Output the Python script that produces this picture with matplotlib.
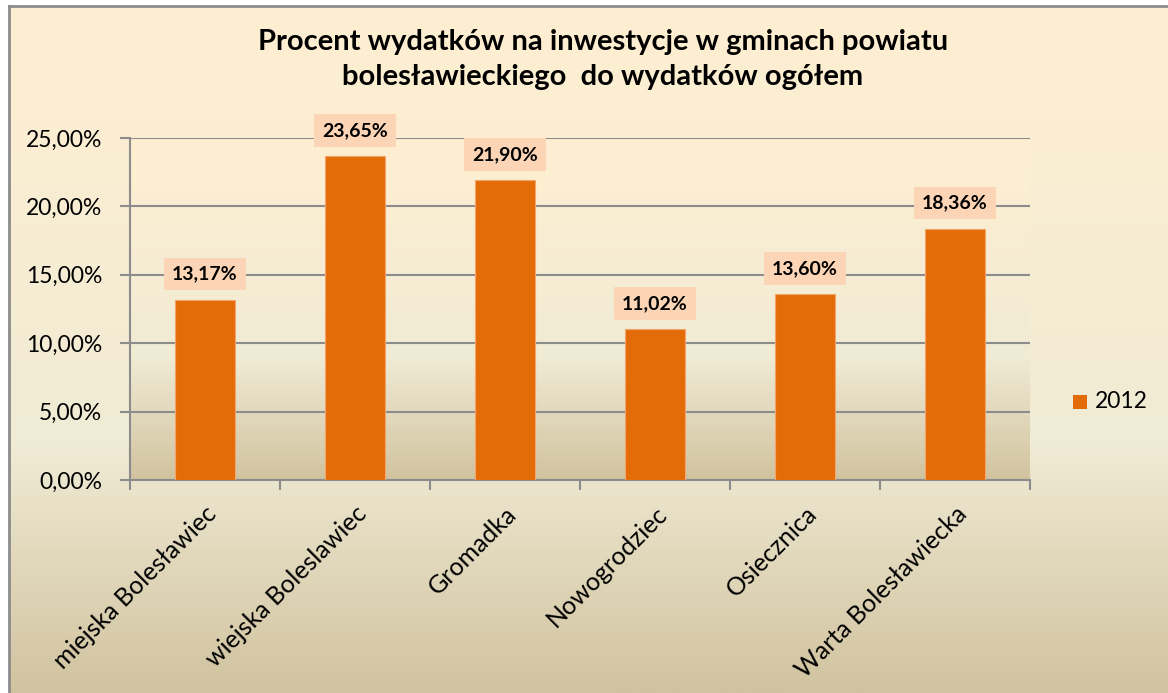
import numpy as np
import matplotlib.pyplot as plt
from matplotlib.colors import LinearSegmentedColormap
from matplotlib.patches import Rectangle

plt.rcParams['font.family'] = ['Lato', 'DejaVu Sans']

gminy = ['miejska Bolesławiec', 'wiejska Boleslawiec', 'Gromadka',
         'Nowogrodziec', 'Osiecznica', 'Warta Bolesławiecka']
wartosci = [13.17, 23.65, 21.90, 11.02, 13.60, 18.36]
seria = '2012'
tytul1 = 'Procent wydatków na inwestycje w gminach powiatu'
tytul2 = 'bolesławieckiego  do wydatków ogółem'

# gradient "pergamin" z Excela
pergamin = LinearSegmentedColormap.from_list(
    'pergamin', [(0.0, '#D1C39F'), (0.36, '#F0EBD5'), (1.0, '#FFEFD1')])
grad = np.linspace(0, 1, 256).reshape(-1, 1)

fig = plt.figure(figsize=(11.68, 6.93), dpi=100)
fig.patch.set_facecolor('white')

# tlo wykresu z ramka
tlo = fig.add_axes([9/1168, 0, 1 - 9/1168, 1 - 6/693])
tlo.imshow(grad, aspect='auto', cmap=pergamin, origin='lower',
           extent=[0, 1, 0, 1])
tlo.set_xlim(0, 1)
tlo.set_ylim(0, 1)
tlo.set_xticks([])
tlo.set_yticks([])
for s in ['right', 'bottom']:
    tlo.spines[s].set_visible(False)
for s in ['left', 'top']:
    tlo.spines[s].set_color('#8C8C8C')
    tlo.spines[s].set_linewidth(2)

ax = fig.add_axes([130/1168, 1 - 480/693, 900/1168, 342/693])
ax.imshow(grad, aspect='auto', cmap=pergamin, origin='lower',
          extent=[-0.5, len(gminy) - 0.5, 0, 25], zorder=0)

x = np.arange(len(gminy))
ax.bar(x, wartosci, width=0.4, color='#E36C09', edgecolor='#F4A46A',
       linewidth=0.8, zorder=3)

for xi, v in zip(x, wartosci):
    ax.annotate(f'{v:.2f}%'.replace('.', ','), (xi, v),
                xytext=(0, 18.5), textcoords='offset points',
                ha='center', va='center', fontsize=14, fontweight='bold',
                bbox=dict(boxstyle='square,pad=0.4', fc='#FBD5B5', ec='none'),
                zorder=4)

ax.set_xlim(-0.5, len(gminy) - 0.5)
ax.set_ylim(0, 25)
ax.set_yticks(np.arange(0, 26, 5))
ax.set_yticklabels([f'{t:.2f}%'.replace('.', ',') for t in np.arange(0, 26, 5)],
                   fontsize=16.5)
ax.yaxis.grid(True, color='#8C8C8C', linewidth=1.5, zorder=1)
ax.set_axisbelow(True)

ax.set_xticks(x)
ax.set_xticklabels(gminy, rotation=45, ha='right', rotation_mode='anchor',
                   fontsize=18)
ax.tick_params(axis='x', length=0, pad=16)
ax.set_xticks(np.arange(-0.5, len(gminy)), minor=True)
ax.tick_params(axis='x', which='minor', length=7, width=1.5, color='#8C8C8C')
ax.tick_params(axis='y', length=7, width=1.5, color='#8C8C8C', pad=13)

for s in ['top', 'right']:
    ax.spines[s].set_visible(False)
for s in ['left', 'bottom']:
    ax.spines[s].set_color('#8C8C8C')
    ax.spines[s].set_linewidth(1.5)

fig.text(603/1168, 1 - 42/693, tytul1, ha='center', va='center',
         fontsize=21, fontweight='bold')
fig.text(603/1168, 1 - 77/693, tytul2, ha='center', va='center',
         fontsize=21, fontweight='bold')

# legenda
fig.patches.append(Rectangle((1073/1168, 1 - 409/693), 14/1168, 14/693,
                             transform=fig.transFigure, fc='#E36C09', ec='none'))
fig.text(1095/1168, 1 - 402/693, seria, ha='left', va='center', fontsize=16.5)

fig.savefig('out.png', dpi=100)
